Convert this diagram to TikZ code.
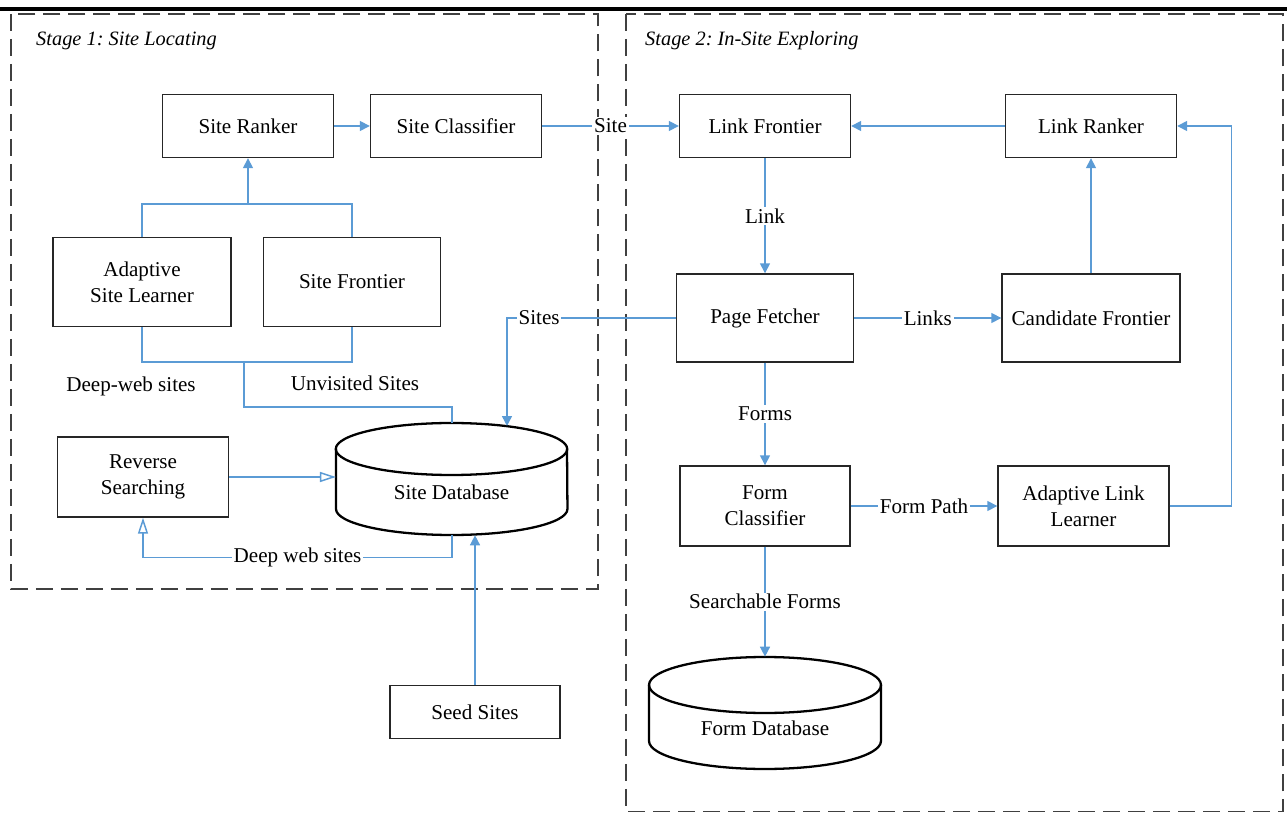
\documentclass[tikz,border=0pt]{standalone}
\usepackage{fontspec}
\setmainfont{Liberation Serif}
\usetikzlibrary{arrows.meta,positioning}
\definecolor{flowblue}{RGB}{91,155,213}
\frenchspacing

\begin{document}
\begin{tikzpicture}[x=0.02cm,y=-0.02cm,
	every node/.style={font=\fontsize{12}{15}\selectfont},
	box/.style={draw=black!85,line width=0.8pt,align=center,inner sep=0pt},
	db/.style={draw=black,line width=1.3pt},
	flow/.style={color=flowblue,line width=0.85pt},
	tip/.style={-{Triangle[length=0.2cm,width=0.2cm]}},
	opentip/.style={-{Triangle[open,length=0.32cm,width=0.2cm]}},
	lbl/.style={fill=white,text=black,inner sep=1pt},
	stage/.style={draw=black!75,line width=0.85pt,dash pattern=on 0.34cm off 0.16cm},
	stagetitle/.style={anchor=west,font=\fontsize{11.6}{15}\selectfont\itshape}]
	\useasboundingbox (0,0) rectangle (1287,813);

	\draw[line width=0.07cm] (0,9) -- (1287,9);

	% the two stages
	\draw[stage] (11,14) rectangle (598,589);
	\draw[stage] (626,14) rectangle (1283,811.5);
	\node[stagetitle] (stage1) at (30,41) {Stage 1: Site Locating};
	\node[stagetitle] (stage2) at (639,41) {Stage 2: In-Site Exploring};

	% stage 1
	\node[box,minimum width=3.42cm,minimum height=1.26cm] (sr) at (248,126) {Site Ranker};
	\node[box,minimum width=3.42cm,minimum height=1.26cm] (sc) at (456,126) {Site Classifier};
	\node[box,minimum width=3.56cm,minimum height=1.78cm] (asl) at (142,282) {Adaptive\\Site Learner};
	\node[box,minimum width=3.54cm,minimum height=1.78cm] (sfr) at (352,282) {Site Frontier};
	\node[box,minimum width=3.42cm,minimum height=1.6cm] (rs) at (143,477) {Reverse\\Searching};
	\node[box,minimum width=3.4cm,minimum height=1.06cm] (seed) at (475,712) {Seed Sites};

	\node (deepweb) at (131,386) {Deep-web sites};
	\node (unvisited) at (355,383) {Unvisited Sites};

	% site database
	\node[minimum width=4.63cm,minimum height=2.24cm,inner sep=0pt] (sdb) at (452,479) {};
	\draw[db] (451.5,449) ellipse [x radius=2.315cm,y radius=0.52cm];
	\draw[db] (336,449) -- (336,509) arc[start angle=180,end angle=360,x radius=2.315cm,y radius=0.52cm] -- (567,449);
	\node (sdbtext) at (451.5,492) {Site Database};

	% stage 2
	\node[box,minimum width=3.42cm,minimum height=1.26cm] (lf) at (765,126) {Link Frontier};
	\node[box,minimum width=3.42cm,minimum height=1.26cm] (lr) at (1091,126) {Link Ranker};
	\node[box,minimum width=3.54cm,minimum height=1.76cm] (pf) at (765,318) {Page Fetcher};
	\node[box,minimum width=3.56cm,minimum height=1.76cm] (cf) at (1091,318) {Candidate Frontier};
	\node[box,minimum width=3.4cm,minimum height=1.6cm] (fc) at (765,506) {Form\\Classifier};
	\node[box,minimum width=3.42cm,minimum height=1.6cm] (alr) at (1083.5,506) {Adaptive Link\\Learner};

	% form database
	\node[minimum width=4.64cm,minimum height=2.24cm,inner sep=0pt] (fdb) at (765,713) {};
	\draw[db] (765,685) ellipse [x radius=2.32cm,y radius=0.56cm];
	\draw[db] (649,685) -- (649,741) arc[start angle=180,end angle=360,x radius=2.32cm,y radius=0.56cm] -- (881,685);
	\node (fdbtext) at (765,728) {Form Database};

	\coordinate (up) at (248,204);
	\coordinate (down) at (244,362);
	\coordinate (bend) at (507,318);
	\coordinate (sdbin) at (507,426);

	\draw[flow] (asl.north) |- (up) -| (sfr.north);
	\draw[flow] (asl.south) |- (down) -| (sfr.south);
	\draw[flow] (down) -- ++(0,45) -| (sdb.north);
	\draw[flow,opentip] (sdb.south) -- ++(0,22) -| node[lbl,pos=0.25] {Deep web sites} (rs.south);
	\draw[flow,tip] (pf.west) -- node[lbl,pos=0.81] {Sites} (bend) -- (sdbin);
	\draw[flow,tip] (alr.east) -- ++(62,0) |- (lr.east);

	\path [flow,tip]
		(up) edge (sr.south)
		(sr) edge (sc)
		(sc) edge node[lbl] {Site} (lf)
		(lf) edge node[lbl] {Link} (pf)
		(pf) edge node[lbl] {Links} (cf)
		(pf) edge node[lbl] {Forms} (fc)
		(fc) edge node[lbl] {Form Path} (alr)
		(fc) edge node[lbl] {Searchable Forms} (fdb.north)
		(lr) edge (lf)
		(cf) edge (lr)
		(seed.north) edge (seed.north |- sdb.south);
	\path [flow,opentip]
		(rs.east) edge (rs.east -| sdb.west);
\end{tikzpicture}
\end{document}
